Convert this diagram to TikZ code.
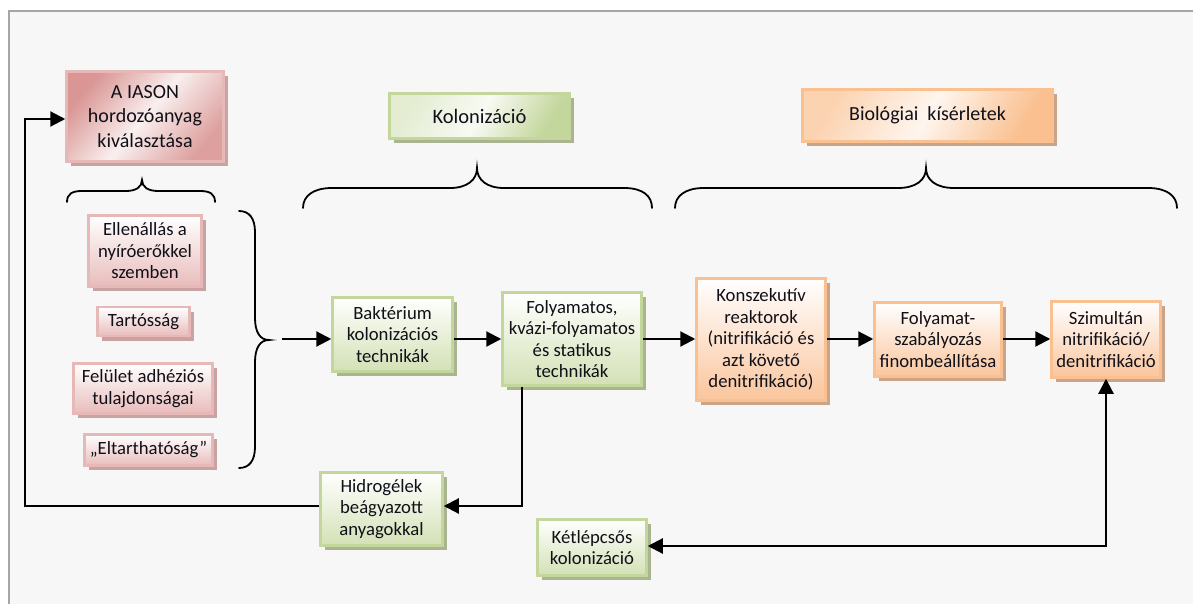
\documentclass[tikz,border=0pt]{standalone}
\usepackage{fontspec}
\setmainfont{Carlito}
\usepackage{xcolor}
\usetikzlibrary{arrows.meta,shadows}

\definecolor{bgfill}{HTML}{F7F7F7}
\definecolor{framecol}{HTML}{A6A6A6}
\definecolor{textcol}{HTML}{101018}
\definecolor{redline}{HTML}{E6B9B8}
\definecolor{redfill}{HTML}{E8BCBB}
\definecolor{redhead}{HTML}{D99694}
\definecolor{redshade}{HTML}{C9A3A3}
\definecolor{grnline}{HTML}{C3D69B}
\definecolor{grnfill}{HTML}{D3E1B5}
\definecolor{grnhead}{HTML}{C3D69B}
\definecolor{grnshade}{HTML}{AAB491}
\definecolor{orline}{HTML}{FAC090}
\definecolor{orfill}{HTML}{FAC59C}
\definecolor{orhead}{HTML}{FAC090}
\definecolor{orshade}{HTML}{C9A488}

\tikzset{
  every node/.style={font=\fontsize{18.7}{21.5}\selectfont, text=textcol},
  box/.style={draw, line width=2.5pt, align=center, inner sep=1pt},
  redbox/.style={box, draw=redline, top color=white, bottom color=redfill,
    drop shadow={shadow xshift=4.5pt, shadow yshift=-4.5pt, fill=redshade, opacity=1}},
  grnbox/.style={box, draw=grnline, top color=white, bottom color=grnfill,
    drop shadow={shadow xshift=4.5pt, shadow yshift=-4.5pt, fill=grnshade, opacity=1}},
  orbox/.style={box, draw=orline, top color=white, bottom color=orfill,
    drop shadow={shadow xshift=4.5pt, shadow yshift=-4.5pt, fill=orshade, opacity=1}},
  redhd/.style={redbox, left color=redhead, right color=redhead!90!white, middle color=redhead!15!white, shading angle=50},
  grnhd/.style={grnbox, left color=grnhead!45!white, right color=grnhead, middle color=grnhead!12!white, shading angle=60},
  orhd/.style={orbox, left color=orhead!70!white, right color=orhead, middle color=orhead!15!white, shading angle=60},
  arr/.style={line width=2.2pt, -{Triangle[length=15pt,width=15pt]}},
  brace/.style={line width=1.8pt, line cap=round},
}

\begin{document}
\begin{tikzpicture}[x=1pt,y=-1pt]
\useasboundingbox (0,0) rectangle (1193,604);
\fill [white] (0,0) rectangle (1193,604);
\draw [framecol, line width=2pt, fill=bgfill] (9,11) rectangle (1210,620);

% fejlecek
\node [redhd, minimum width=157, minimum height=90, font=\fontsize{20}{24.5}\selectfont] (iason) at (145,116.5) {A IASON\\hordozóanyag\\kiválasztása};
\node [grnhd, minimum width=180, minimum height=45, font=\fontsize{20.5}{24}\selectfont] (kolon) at (479.5,116) {Kolonizáció};
\node [orhd, minimum width=250, minimum height=52, font=\fontsize{20}{24}\selectfont] (bio) at (927.5,115.5) {Biológiai\ \ kísérletek};

% kapcsos zarojelek
\draw [brace] (67,202) .. controls (67,194) and (72,191) .. (82,191) -- (126,191)
  .. controls (136,191) and (142,187) .. (142,180) .. controls (142,187) and (148,191) .. (158,191)
  -- (200,191) .. controls (210,191) and (215,194) .. (215,202);
\draw [brace] (303,208) .. controls (303,196) and (313,188) .. (332,188) -- (450,188)
  .. controls (467,188) and (477,180) .. (477,168) .. controls (477,180) and (487,188) .. (504,188)
  -- (624,188) .. controls (643,188) and (652,196) .. (652,208);
\draw [brace] (675,208) .. controls (675,196) and (685,188) .. (704,188) -- (898,188)
  .. controls (916,188) and (926,180) .. (926,168) .. controls (926,180) and (936,188) .. (954,188)
  -- (1148,188) .. controls (1167,188) and (1177,196) .. (1177,208);
\draw [brace] (239,211) .. controls (249,211) and (255,218) .. (255,232) -- (255,318)
  .. controls (255,332) and (260,340) .. (269,340) .. controls (260,340) and (255,348) .. (255,362)
  -- (255,447) .. controls (255,461) and (249,468) .. (239,468);

% tulajdonsagok
\node [redbox, minimum width=113, minimum height=71] (ellen) at (145,251) {Ellenállás a\\nyíróerőkkel\\szemben};
\node [redbox, minimum width=92, minimum height=29] (tart) at (143.5,321.5) {Tartósság};
\node [redbox, minimum width=139, minimum height=50] (felul) at (143,388.5) {Felület adhéziós\\tulajdonságai};
\node [redbox, minimum width=128, minimum height=31] (eltart) at (148.5,450) {„Eltarthatóság”};

% kolonizacio
\node [grnbox, minimum width=120, minimum height=74] (bakt) at (392.5,334.5) {Baktérium\\kolonizációs\\technikák};
\node [grnbox, minimum width=139, minimum height=93] (foly) at (572,339) {Folyamatos,\\kvázi-folyamatos\\és statikus\\technikák};
\node [grnbox, minimum width=122, minimum height=73] (hidro) at (381.5,509) {Hidrogélek\\beágyazott\\anyagokkal};
\node [grnbox, minimum width=109, minimum height=56] (ket) at (592,547.5) {Kétlépcsős\\kolonizáció};

% biologiai kiserletek
\node [orbox, minimum width=129, minimum height=122] (kons) at (761,339.5) {Konszekutív\\reaktorok\\(nitrifikáció és\\azt követő\\denitrifikáció)};
\node [orbox, minimum width=127, minimum height=74] (fsz) at (938,339.5) {Folyamat-\\szabályozás\\finombeállítása};
\node [orbox, minimum width=109, minimum height=76] (szim) at (1106,339.5) {Szimultán\\nitrifikáció/\\denitrifikáció};

% nyilak
\coordinate (bt) at (282,339);
\coordinate (c1) at (522,506);
\coordinate (c2) at (25,119);
\coordinate (c3) at (1106,546);
\draw [arr] (bt) -- (bakt.west |- bt);
\draw [arr] (bakt.east |- bt) -- (foly.west |- bt);
\draw [arr] (foly.east |- bt) -- (kons.west |- bt);
\draw [arr] (kons.east |- bt) -- (fsz.west |- bt);
\draw [arr] (fsz.east |- bt) -- (szim.west |- bt);
\draw [arr] (foly.south -| c1) -- (c1) -- (hidro.east |- c1);
\draw [arr] (hidro.west |- c1) -| (c2) -- (iason.west |- c2);
\draw [arr, {Triangle[length=15pt,width=15pt]}-{Triangle[length=15pt,width=15pt]}] (ket.east |- c3) -| (szim.south);

\end{tikzpicture}
\end{document}
